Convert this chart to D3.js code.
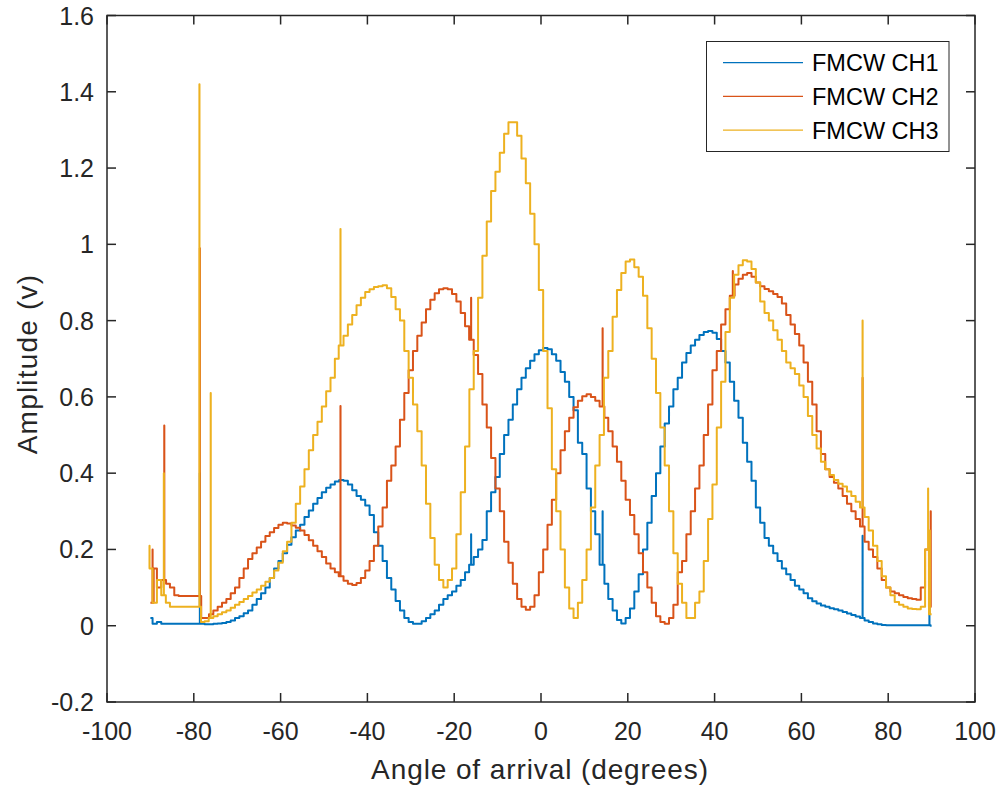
<!DOCTYPE html>
<html>
<head>
<meta charset="utf-8">
<script src="https://cdn.jsdelivr.net/npm/d3@7"></script>
<style>
  html, body { margin: 0; padding: 0; background: #fff; }
  svg { display: block; }
  text { font-family: "Liberation Sans", Arial, Helvetica, sans-serif; }
</style>
</head>
<body>
<svg id="chart" width="1000" height="790"></svg>
<script>
// ---------- DATA ----------
const angles = [
 -90,-89,-88,-87,-86,-85,-84,-83,-82,-81,-80,
 -79,-78,-77,-76,-75,-74,-73,-72,-71,-70,
 -69,-68,-67,-66,-65,-64,-63,-62,-61,-60,
 -59,-58,-57,-56,-55,-54,-53,-52,-51,-50,
 -49,-48,-47,-46,-45,-44,-43,-42,-41,-40,
 -39,-38,-37,-36,-35,-34,-33,-32,-31,-30,
 -29,-28,-27,-26,-25,-24,-23,-22,-21,-20,
 -19,-18,-17,-16,-15,-14,-13,-12,-11,-10,
 -9,-8,-7,-6,-5,-4,-3,-2,-1,0,
 1,2,3,4,5,6,7,8,9,10,
 11,12,13,14,15,16,17,18,19,20,
 21,22,23,24,25,26,27,28,29,30,
 31,32,33,34,35,36,37,38,39,40,
 41,42,43,44,45,46,47,48,49,50,
 51,52,53,54,55,56,57,58,59,60,
 61,62,63,64,65,66,67,68,69,70,
 71,72,73,74,75,76,77,78,79,80,
 81,82,83,84,85,86,87,88,89,90
];

const ch1 = [
 0.02,0.005,0.01,0.005,0.005,0.005,0.005,0.005,0.005,0.005,0.005,
 0.005,0.005,0.004,0.004,0.005,0.006,0.007,0.01,0.014,0.02,
 0.025,0.033,0.04,0.055,0.07,0.085,0.10,0.125,0.15,0.17,
 0.19,0.212,0.232,0.25,0.265,0.285,0.302,0.32,0.335,0.35,
 0.362,0.37,0.378,0.382,0.38,0.37,0.355,0.34,0.33,0.315,
 0.29,0.245,0.21,0.17,0.125,0.095,0.065,0.04,0.02,0.01,
 0.005,0.005,0.012,0.02,0.03,0.04,0.055,0.07,0.08,0.09,
 0.105,0.12,0.14,0.16,0.18,0.2,0.225,0.3,0.35,0.39,
 0.45,0.5,0.54,0.58,0.62,0.65,0.675,0.695,0.712,0.722,
 0.728,0.725,0.712,0.695,0.665,0.64,0.6,0.565,0.48,0.45,
 0.36,0.3,0.24,0.16,0.11,0.07,0.04,0.015,0.006,0.02,
 0.045,0.09,0.135,0.2,0.27,0.34,0.4,0.47,0.53,0.575,
 0.62,0.65,0.69,0.715,0.735,0.75,0.762,0.77,0.773,0.768,
 0.752,0.72,0.69,0.64,0.59,0.545,0.48,0.43,0.38,0.31,
 0.27,0.23,0.21,0.19,0.17,0.15,0.135,0.12,0.105,0.095,
 0.085,0.072,0.064,0.058,0.053,0.05,0.046,0.043,0.04,0.036,
 0.032,0.028,0.024,0.02,0.014,0.01,0.006,0.004,0.002,0.001,
 0.001,0.001,0.001,0.001,0.001,0.001,0.001,0.001,0.001,0.0
];

const ch2 = [
 0.06,0.15,0.1,0.12,0.11,0.1,0.08,0.078,0.078,0.078,0.078,
 0.078,0.02,0.02,0.03,0.04,0.05,0.06,0.07,0.085,0.1,
 0.125,0.15,0.175,0.19,0.205,0.22,0.235,0.245,0.256,0.265,
 0.27,0.268,0.263,0.257,0.25,0.238,0.224,0.21,0.195,0.18,
 0.163,0.15,0.14,0.13,0.118,0.11,0.107,0.112,0.125,0.145,
 0.17,0.21,0.26,0.31,0.38,0.42,0.47,0.54,0.61,0.67,
 0.72,0.76,0.795,0.83,0.855,0.872,0.882,0.885,0.882,0.87,
 0.85,0.82,0.785,0.75,0.71,0.66,0.58,0.52,0.44,0.36,
 0.3,0.22,0.165,0.11,0.07,0.05,0.042,0.05,0.08,0.14,
 0.2,0.265,0.33,0.4,0.46,0.51,0.545,0.573,0.59,0.602,
 0.607,0.6,0.59,0.575,0.545,0.51,0.47,0.43,0.38,0.33,
 0.29,0.24,0.19,0.14,0.1,0.06,0.025,0.01,0.005,0.02,
 0.055,0.14,0.17,0.24,0.3,0.36,0.42,0.5,0.58,0.67,
 0.72,0.79,0.83,0.865,0.895,0.91,0.92,0.925,0.915,0.9,
 0.89,0.883,0.877,0.87,0.862,0.845,0.815,0.79,0.765,0.735,
 0.69,0.64,0.58,0.51,0.45,0.41,0.39,0.375,0.36,0.34,
 0.32,0.3,0.28,0.26,0.22,0.2,0.18,0.15,0.12,0.1,
 0.09,0.085,0.08,0.075,0.072,0.07,0.068,0.1,0.2,0.05
];

const ch3 = [
 0.15,0.06,0.12,0.08,0.06,0.05,0.05,0.05,0.05,0.05,0.05,
 0.05,0.01,0.012,0.02,0.025,0.03,0.035,0.04,0.047,0.055,
 0.062,0.07,0.078,0.087,0.095,0.105,0.115,0.125,0.145,0.165,
 0.195,0.22,0.27,0.32,0.365,0.41,0.46,0.5,0.535,0.575,
 0.615,0.65,0.7,0.735,0.76,0.79,0.815,0.84,0.86,0.875,
 0.882,0.888,0.89,0.893,0.885,0.862,0.83,0.8,0.72,0.65,
 0.58,0.51,0.42,0.32,0.23,0.16,0.12,0.1,0.12,0.15,
 0.24,0.35,0.47,0.62,0.72,0.86,0.97,1.06,1.14,1.19,
 1.24,1.29,1.32,1.32,1.285,1.225,1.16,1.08,1.0,0.88,
 0.72,0.57,0.41,0.3,0.2,0.1,0.045,0.02,0.06,0.12,
 0.2,0.31,0.42,0.5,0.65,0.72,0.81,0.88,0.925,0.955,
 0.96,0.94,0.915,0.865,0.78,0.7,0.61,0.52,0.42,0.3,
 0.19,0.11,0.06,0.02,0.02,0.06,0.09,0.17,0.28,0.37,
 0.52,0.64,0.77,0.86,0.92,0.945,0.958,0.955,0.935,0.9,
 0.85,0.82,0.8,0.775,0.75,0.72,0.69,0.675,0.66,0.63,
 0.6,0.55,0.5,0.465,0.43,0.41,0.395,0.382,0.372,0.365,
 0.352,0.34,0.325,0.31,0.285,0.25,0.21,0.17,0.13,0.1,
 0.08,0.062,0.055,0.05,0.045,0.044,0.043,0.05,0.2,0.03
];

// isolated glitches (angle, peak amplitude)
const ch1Spikes = [[-78.6, 0.40], [-16.1, 0.24], [14.2, 0.30], [74.1, 0.236], [89.5, 0.08]];
const ch2Spikes = [[-89.5, 0.20], [-86.8, 0.525], [-78.6, 0.99], [-46.2, 0.576], [-16.1, 0.86], [14.2, 0.78], [44.2, 0.93], [74.1, 0.65], [89.8, 0.30]];
const ch3Spikes = [[-90.2, 0.21], [-86.9, 0.40], [-78.7, 1.42], [-76.1, 0.61], [-46.2, 1.04], [74.1, 0.80], [89.2, 0.36], [89.6, 0.25]];

const seriesNames = ["FMCW CH1", "FMCW CH2", "FMCW CH3"];
const xTicks = [-100, -80, -60, -40, -20, 0, 20, 40, 60, 80, 100];
const yTicks = [-0.2, 0, 0.2, 0.4, 0.6, 0.8, 1, 1.2, 1.4, 1.6];
const xLabel = "Angle of arrival (degrees)";
const yLabel = "Amplitude (v)";

// ---------- CHART ----------
const colors = ["#0072BD", "#D95319", "#EDB120"];
const axisColor = "#262626";
const svg = d3.select("#chart");
const L = 107, R = 975, T = 15.5, B = 702;
const x = d3.scaleLinear().domain([-100, 100]).range([L, R]);
const y = d3.scaleLinear().domain([-0.2, 1.6]).range([B, T]);

function buildSeries(vals, spikes) {
  const pts = angles.map((a, i) => ({ a: a, v: vals[i] }));
  spikes.forEach(([sa, sv]) => {
    // nearest sample value at that angle (midpoint step)
    let best = 0;
    for (let i = 0; i < angles.length; i++) {
      if (Math.abs(angles[i] - sa) < Math.abs(angles[best] - sa)) best = i;
    }
    const base = vals[best];
    pts.push({ a: sa - 0.02, v: base });
    pts.push({ a: sa, v: sv });
    pts.push({ a: sa + 0.02, v: base });
  });
  pts.sort((p, q) => p.a - q.a);
  return pts;
}

const allSeries = [buildSeries(ch1, ch1Spikes), buildSeries(ch2, ch2Spikes), buildSeries(ch3, ch3Spikes)];

const line = d3.line().x(d => x(d.a)).y(d => y(d.v)).curve(d3.curveStep);

svg.append("defs").append("clipPath").attr("id", "clip")
  .append("rect").attr("x", L).attr("y", T).attr("width", R - L).attr("height", B - T);

const g = svg.append("g").attr("clip-path", "url(#clip)");
allSeries.forEach((s, i) => {
  g.append("path").datum(s).attr("d", line)
    .attr("fill", "none").attr("stroke", colors[i]).attr("stroke-width", 2)
    .attr("stroke-linejoin", "round");
});

// axes box
const ax = svg.append("g");
ax.append("rect").attr("x", L).attr("y", T).attr("width", R - L).attr("height", B - T)
  .attr("fill", "none").attr("stroke", axisColor).attr("stroke-width", 1.5);

const tl = 9;
xTicks.forEach(t => {
  const px = x(t);
  ax.append("line").attr("x1", px).attr("x2", px).attr("y1", B).attr("y2", B - tl).attr("stroke", axisColor).attr("stroke-width", 1.5);
  ax.append("line").attr("x1", px).attr("x2", px).attr("y1", T).attr("y2", T + tl).attr("stroke", axisColor).attr("stroke-width", 1.5);
  ax.append("text").attr("x", px).attr("y", 740).attr("text-anchor", "middle")
    .attr("font-size", 25).attr("fill", axisColor).text(String(t));
});
yTicks.forEach(t => {
  const py = y(t);
  ax.append("line").attr("x1", L).attr("x2", L + tl).attr("y1", py).attr("y2", py).attr("stroke", axisColor).attr("stroke-width", 1.5);
  ax.append("line").attr("x1", R).attr("x2", R - tl).attr("y1", py).attr("y2", py).attr("stroke", axisColor).attr("stroke-width", 1.5);
  ax.append("text").attr("x", 94).attr("y", py + 9).attr("text-anchor", "end")
    .attr("font-size", 25).attr("fill", axisColor).text(String(t));
});

svg.append("text").attr("x", 540).attr("y", 779).attr("text-anchor", "middle")
  .attr("font-size", 28).attr("letter-spacing", 0.9).attr("fill", axisColor).text(xLabel);
svg.append("text").attr("transform", "translate(37,364) rotate(-90)").attr("text-anchor", "middle")
  .attr("font-size", 28).attr("letter-spacing", 1.2).attr("fill", axisColor).text(yLabel);

// legend
const lg = svg.append("g");
lg.append("rect").attr("x", 706.5).attr("y", 41.5).attr("width", 242.5).attr("height", 110)
  .attr("fill", "#fff").attr("stroke", axisColor).attr("stroke-width", 1);
seriesNames.forEach((n, i) => {
  const ly = 62.7 + i * 33.7;
  lg.append("line").attr("x1", 723).attr("x2", 803).attr("y1", ly).attr("y2", ly)
    .attr("stroke", colors[i]).attr("stroke-width", 1.3);
  lg.append("text").attr("x", 812).attr("y", ly + 8.5).attr("font-size", 23.5).attr("fill", "#000").text(n);
});
</script>
</body>
</html>
